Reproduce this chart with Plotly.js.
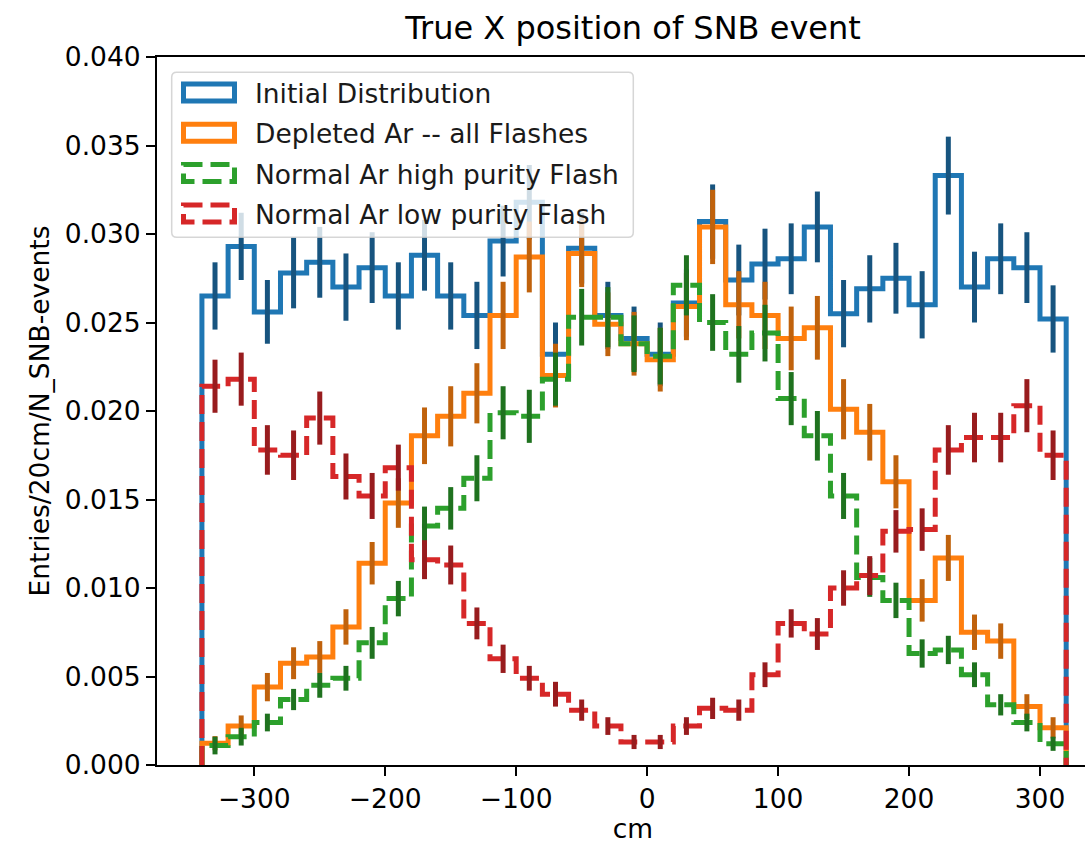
<!DOCTYPE html>
<html>
<head>
<meta charset="utf-8">
<script src="https://cdn.plot.ly/plotly-3.0.1.min.js"></script>
<style>
html,body{margin:0;padding:0;overflow:hidden;background:#fff;}
#chart{width:1130px;height:844px;}
</style>
</head>
<body>
<div id="chart"></div>
<script>
// Bin edges (cm), 20 cm bins
const binEdges = [-340,-320,-300,-280,-260,-240,-220,-200,-180,-160,-140,-120,-100,-80,-60,-40,-20,0,20,40,60,80,100,120,140,160,180,200,220,240,260,280,300,320];

const seriesNames = ["Initial Distribution","Depleted Ar -- all Flashes","Normal Ar high purity Flash","Normal Ar low purity Flash"];

const initialVals = [0.0265,0.0293,0.0256,0.0278,0.0284,0.0270,0.0281,0.0265,0.0288,0.0265,0.0254,0.0296,0.0318,0.0232,0.0292,0.0254,0.0241,0.0232,0.0261,0.0307,0.0274,0.0283,0.0286,0.0304,0.0255,0.0269,0.0275,0.0260,0.0333,0.0270,0.0286,0.0281,0.0252];
const initialErr = [0.0019,0.0019,0.0018,0.0020,0.0020,0.0019,0.0020,0.0019,0.0020,0.0019,0.0019,0.0020,0.0021,0.0018,0.0020,0.0019,0.0018,0.0018,0.0019,0.0021,0.0020,0.0020,0.0020,0.0020,0.0019,0.0019,0.0020,0.0019,0.0022,0.0020,0.0020,0.0020,0.0019];

const depletedVals = [0.00123,0.0022,0.0044,0.00575,0.0061,0.0078,0.0114,0.0148,0.0186,0.0197,0.0210,0.0254,0.0287,0.0220,0.0289,0.0249,0.0238,0.0229,0.0259,0.0304,0.0260,0.0254,0.0241,0.0247,0.0201,0.0188,0.0160,0.0093,0.0117,0.0075,0.0070,0.0033,0.0021];
const depletedErr = [0.0004,0.0006,0.0008,0.0009,0.0009,0.0010,0.0012,0.0014,0.0016,0.0017,0.0017,0.0019,0.0020,0.0018,0.0019,0.0018,0.0018,0.0018,0.0019,0.0021,0.0019,0.0019,0.0018,0.0018,0.0017,0.0016,0.0015,0.0012,0.0013,0.0010,0.0010,0.0007,0.0006];

const highPurityVals = [0.0011,0.0016,0.0024,0.0037,0.0045,0.0049,0.0069,0.0094,0.0135,0.0145,0.0162,0.0199,0.0197,0.0218,0.0253,0.0253,0.0238,0.0231,0.0271,0.0250,0.0232,0.0244,0.0207,0.0186,0.0152,0.0106,0.0093,0.0063,0.0065,0.0051,0.0034,0.0024,0.0012];
const highPurityErr = [0.0005,0.0005,0.0005,0.0006,0.0007,0.0007,0.0009,0.0010,0.0011,0.0012,0.0013,0.0015,0.0015,0.0015,0.0016,0.0017,0.0016,0.0016,0.0017,0.0016,0.0016,0.0016,0.0015,0.0014,0.0013,0.0011,0.0010,0.0008,0.0008,0.0007,0.0006,0.0005,0.0004];

const lowPurityVals = [0.0214,0.0218,0.0178,0.0175,0.0196,0.0163,0.0152,0.0168,0.0116,0.0113,0.0080,0.0060,0.0049,0.0040,0.0031,0.0022,0.0013,0.0013,0.0022,0.0032,0.0031,0.0051,0.0080,0.0074,0.0100,0.0107,0.0132,0.0133,0.0178,0.0185,0.0185,0.0203,0.0175];
const lowPurityErr = [0.0015,0.0015,0.0014,0.0014,0.0015,0.0013,0.0013,0.0013,0.0011,0.0011,0.0009,0.0008,0.0007,0.0007,0.0006,0.0005,0.0004,0.0004,0.0005,0.0006,0.0006,0.0007,0.0008,0.0009,0.0010,0.0011,0.0012,0.0012,0.0014,0.0014,0.0014,0.0015,0.0014];

const xTicks = [-300,-200,-100,0,100,200,300];
const yTicks = [0,0.005,0.010,0.015,0.020,0.025,0.030,0.035,0.040];

const lineColors = ["#1f77b4","#ff7f0e","#2ca02c","#d62728"];
const errColors = ["#17547f","#c0620c","#1f721f","#981c1e"];
const dashes = ["solid","solid","19px,8px","19px,8px"];

const allVals = [initialVals, depletedVals, highPurityVals, lowPurityVals];
const allErr = [initialErr, depletedErr, highPurityErr, lowPurityErr];

const nb = binEdges.length - 1;
const centers = [];
for (let i = 0; i < nb; i++) centers.push((binEdges[i] + binEdges[i+1]) / 2);

const traces = [];
for (let s = 0; s < 4; s++) {
  const v = allVals[s];
  const sx = [binEdges[0]].concat(binEdges.slice(0, nb)).concat([binEdges[nb]]);
  const sy = [0].concat(v).concat([0]);
  traces.push({
    type: 'scatter', mode: 'lines', x: sx, y: sy, name: seriesNames[s],
    line: {shape: 'hv', color: lineColors[s], width: 5, dash: dashes[s]},
    showlegend: false, hoverinfo: 'skip'
  });
  traces.push({
    type: 'scatter', mode: 'markers', x: centers, y: v, name: seriesNames[s] + ' err',
    marker: {size: 1, color: 'rgba(0,0,0,0)'},
    error_y: {type: 'data', array: allErr[s], visible: true, color: errColors[s], thickness: 5, width: 0},
    showlegend: false, hoverinfo: 'skip'
  });
}

// geometry of the plot area in pixels
const W = 1130, H = 844;
const mL = 157, mR = 21, mT = 57, mB = 79;
const pw = W - mL - mR, ph = H - mT - mB;
const px = p => (p - mL) / pw;
const py = p => (H - mB - p) / ph;

const FS = 26.5;

// legend (drawn as shapes + annotations)
const shapes = [];
const annotations = [];
const lx0 = 171.7, lx1 = 633.3, ly0 = 72.3, ly1 = 237.3, r = 5;
const path = `M${px(lx0+r)},${py(ly0)} L${px(lx1-r)},${py(ly0)} Q${px(lx1)},${py(ly0)} ${px(lx1)},${py(ly0+r)} ` +
  `L${px(lx1)},${py(ly1-r)} Q${px(lx1)},${py(ly1)} ${px(lx1-r)},${py(ly1)} ` +
  `L${px(lx0+r)},${py(ly1)} Q${px(lx0)},${py(ly1)} ${px(lx0)},${py(ly1-r)} ` +
  `L${px(lx0)},${py(ly0+r)} Q${px(lx0)},${py(ly0)} ${px(lx0+r)},${py(ly0)} Z`;
shapes.push({type: 'path', xref: 'paper', yref: 'paper', path: path,
  fillcolor: 'rgba(255,255,255,0.8)', line: {color: 'rgba(204,204,204,0.8)', width: 1.5}, layer: 'above'});
for (let s = 0; s < 4; s++) {
  const cy = 92.5 + 40.3 * s;
  shapes.push({type: 'rect', xref: 'paper', yref: 'paper',
    x0: px(183.5), x1: px(234.5), y0: py(cy - 8.5), y1: py(cy + 8.5),
    line: {color: lineColors[s], width: 5, dash: dashes[s]}, fillcolor: 'rgba(0,0,0,0)', layer: 'above'});
  annotations.push({xref: 'paper', yref: 'paper', x: px(253), y: py(cy + 1), xanchor: 'left', yanchor: 'middle',
    text: seriesNames[s], showarrow: false, font: {family: 'DejaVu Sans', size: FS, color: '#1a1a1a'}});
}

const layout = {
  width: W, height: H,
  margin: {l: mL, r: mR, t: mT, b: mB, pad: 0},
  paper_bgcolor: '#ffffff', plot_bgcolor: '#ffffff',
  font: {family: 'DejaVu Sans', size: FS, color: '#000'},
  title: {text: 'True X position of SNB event', font: {family: 'DejaVu Sans', size: 32, color: '#000'},
    x: 0.5, xref: 'paper', y: 1 - 28 / H, yref: 'container', yanchor: 'middle'},
  xaxis: {range: [-374.3, 352.7], tickvals: xTicks, ticks: 'outside', ticklen: 9, tickwidth: 2, tickcolor: '#000',
    showline: true, linecolor: '#000', linewidth: 2, mirror: true, showgrid: false, zeroline: false,
    tickfont: {family: 'DejaVu Sans', size: FS, color: '#000'},
    title: {text: 'cm', font: {family: 'DejaVu Sans', size: FS, color: '#000'}, standoff: 16}},
  yaxis: {range: [0, 0.04], tickvals: yTicks, tickformat: '.3f', ticks: 'outside', ticklen: 9, tickwidth: 2, tickcolor: '#000',
    showline: true, linecolor: '#000', linewidth: 2, mirror: true, showgrid: false, zeroline: false,
    tickfont: {family: 'DejaVu Sans', size: FS, color: '#000'},
    title: {text: 'Entries/20cm/N_SNB-events', font: {family: 'DejaVu Sans', size: FS, color: '#000'}, standoff: 8}},
  shapes: shapes,
  annotations: annotations,
  showlegend: false
};

Plotly.newPlot('chart', traces, layout, {displayModeBar: false, staticPlot: true});
</script>
</body>
</html>
